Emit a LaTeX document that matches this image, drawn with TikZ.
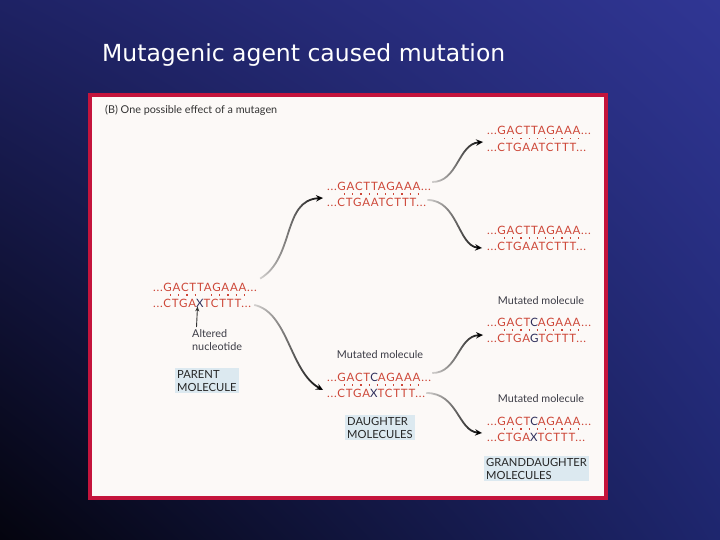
\documentclass[tikz,border=0pt]{standalone}
\usepackage{fontspec}
\setmainfont{Lato}
\newfontfamily\titlefont{DejaVu Sans}
\newfontfamily\seqfont[LetterSpace=7]{Lato}
\usetikzlibrary{arrows.meta,fadings,calc,shadings}
\definecolor{seqred}{RGB}{205,70,55}
\definecolor{mutblue}{RGB}{45,45,90}
\definecolor{panelbg}{RGB}{252,249,247}
\definecolor{crimson}{RGB}{196,20,60}
\definecolor{boxblue}{RGB}{220,233,240}
\definecolor{labgray}{RGB}{60,60,70}
\definecolor{bgul}{RGB}{30,34,100}
\definecolor{bgur}{RGB}{48,54,148}
\definecolor{bgll}{RGB}{4,4,14}
\definecolor{bglr}{RGB}{30,38,110}
\tikzfading[name=growdark, left color=transparent!85, right color=transparent!0]
\newcommand{\mb}[1]{\textcolor{mutblue}{#1}}
\tikzset{
  seq/.style={font=\seqfont\fontsize{11.5}{13}\selectfont, text=seqred, inner sep=0pt, anchor=west},
  lab/.style={font=\fontsize{10.8}{13}\selectfont, text=labgray, inner sep=0pt},
  molbox/.style={font=\fontsize{11.2}{13}\selectfont, text=black!85, fill=boxblue, align=left, inner sep=2pt, anchor=north west},
  dots/.style={seqred, line width=1.1pt, dash pattern=on 1.1pt off 7.1pt},
  growarrow/.style={line width=1.8pt, black, path fading=growdark, fit fading=true, -{Stealth[length=7pt,width=6.5pt]}},
}
\begin{document}
\begin{tikzpicture}[x=1pt,y=-1pt]
\useasboundingbox (0,0) rectangle (720,540);
\shade[upper left=bgul, upper right=bgur, lower left=bgll, lower right=bglr]
  (0,0) rectangle (720,540);
\node[font=\titlefont\fontsize{23.5}{26}\selectfont, text=white, anchor=west, inner sep=0] (title) at (102,55) {Mutagenic agent caused mutation};
% panel
\draw[crimson, line width=4pt, fill=panelbg] (90,95) rectangle (606,498);
\node[lab, anchor=west, text=black!80] (cap) at (105,110) {(B) One possible effect of a mutagen};
% parent
\node[seq] (p1) at (153,287) {...GACTTAGAAA...};
\node[seq] (p2) at (153,303) {...CTGA\mb{X}TCTTT...};
\draw[dots] ($(p1.west)+(17,8)$) -- +(25,0);
\draw[dots] ($(p1.west)+(17+5*8.2,8)$) -- +(33.5,0);
\node[lab, anchor=north west, align=left] (alt) at (192,329) {Altered\\nucleotide};
\draw[-{Stealth[length=5pt,width=4pt]}, line width=0.9pt, black!80] ($(alt.north west)+(4.5,-2)$) -- ($(p2.south west)+(44.5,-1)$);
\node[molbox] (pm) at (175,368) {PARENT\\MOLECULE};
% daughters
\node[seq] (d1a) at (327,186) {...GACTTAGAAA...};
\node[seq] (d1b) at (327,202) {...CTGAATCTTT...};
\draw[dots] ($(d1a.west)+(17,8)$) -- +(74.5,0);
\node[lab] (mm1) at (380,355) {Mutated molecule};
\node[seq] (d2a) at (327,377) {...GACT\mb{C}AGAAA...};
\node[seq] (d2b) at (327,393) {...CTGA\mb{X}TCTTT...};
\draw[dots] ($(d2a.west)+(17,8)$) -- +(74.5,0);
\node[molbox] (dm) at (345,415) {DAUGHTER\\MOLECULES};
% granddaughters
\node[seq] (g1a) at (487,130) {...GACTTAGAAA...};
\node[seq] (g1b) at (487,147) {...CTGAATCTTT...};
\draw[dots] ($(g1a.west)+(17,8.5)$) -- +(74.5,0);
\node[seq] (g2a) at (487,230) {...GACTTAGAAA...};
\node[seq] (g2b) at (487,246) {...CTGAATCTTT...};
\draw[dots] ($(g2a.west)+(17,8)$) -- +(74.5,0);
\node[lab] (mm2) at (541,301) {Mutated molecule};
\node[seq] (g3a) at (487,322) {...GACT\mb{C}AGAAA...};
\node[seq] (g3b) at (487,338) {...CTGA\mb{G}TCTTT...};
\draw[dots] ($(g3a.west)+(17,8)$) -- +(74.5,0);
\node[lab] (mm3) at (541,399) {Mutated molecule};
\node[seq] (g4a) at (487,421) {...GACT\mb{C}AGAAA...};
\node[seq] (g4b) at (487,437) {...CTGA\mb{X}TCTTT...};
\draw[dots] ($(g4a.west)+(17,8)$) -- +(74.5,0);
\node[molbox] (gm) at (484,456) {GRANDDAUGHTER\\MOLECULES};
% replication arrows
\draw[growarrow] ($(p1.north east)+(3,-4)$) .. controls (295,258) and (282,200) .. ($(d1b.west)+(-4,-4)$);
\draw[growarrow] ($(p2.east)+(3,2)$) .. controls (288,312) and (290,372) .. ($(d2b.west)+(-4,-3)$);
\draw[growarrow] ($(d1a.east)+(1,-4)$) .. controls (458,182) and (458,144) .. ($(g1b.west)+(-4,-5)$);
\draw[growarrow] ($(d1b.east)+(1,-2)$) .. controls (458,200) and (458,246) .. ($(g2b.west)+(-5,2)$);
\draw[growarrow] ($(d2a.east)+(1,-4)$) .. controls (458,373) and (458,336) .. ($(g3b.west)+(-4,-3)$);
\draw[growarrow] ($(d2b.east)+(1,0)$) .. controls (458,393) and (458,431) .. ($(g4b.west)+(-5,-4)$);
\end{tikzpicture}
\end{document}
